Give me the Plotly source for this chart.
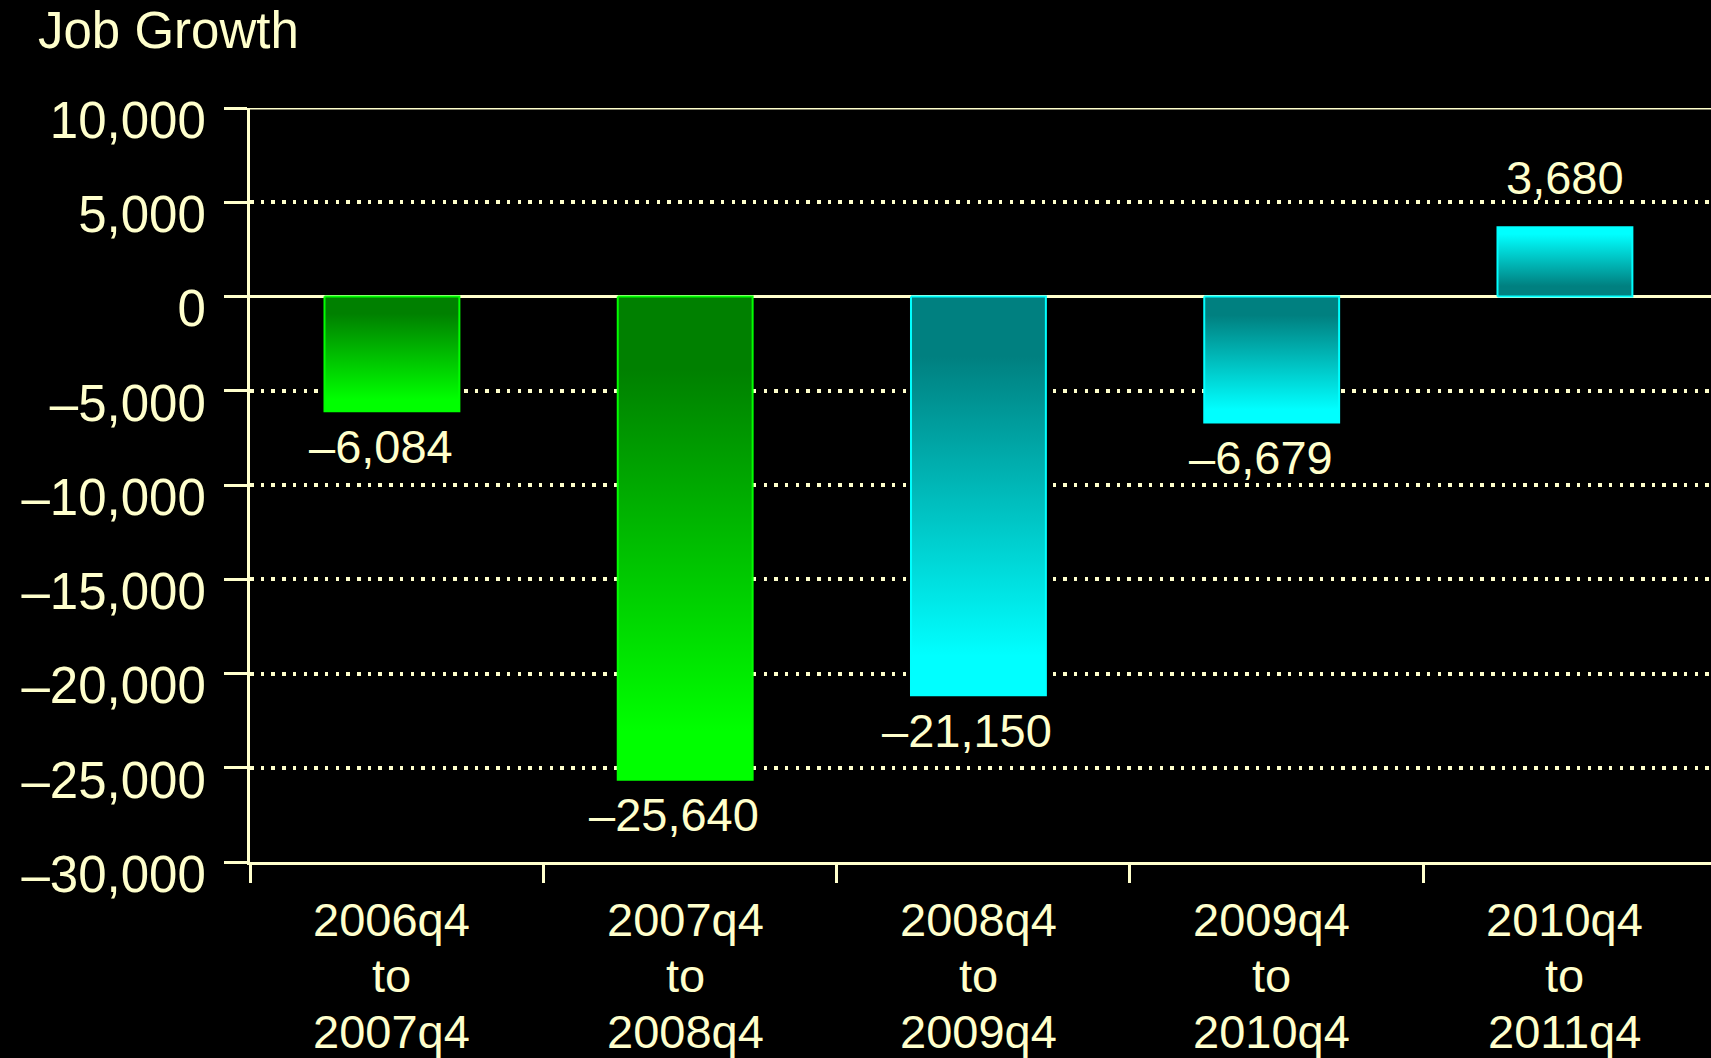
import plotly.graph_objects as go

# ---- data ----
periods = [("2006q4", "to", "2007q4"), ("2007q4", "to", "2008q4"), ("2008q4", "to", "2009q4"),
           ("2009q4", "to", "2010q4"), ("2010q4", "to", "2011q4")]
job_growth = [-6084, -25640, -21150, -6679, 3680]
value_labels = ["–6,084", "–25,640", "–21,150", "–6,679", "3,680"]
y_ticks = [10000, 5000, 0, -5000, -10000, -15000, -20000, -25000, -30000]
y_tick_labels = ["10,000", "5,000", "0", "–5,000", "–10,000", "–15,000", "–20,000", "–25,000", "–30,000"]
bar_palette = [("#008000", "#00FF00"), ("#008000", "#00FF00"), ("#008080", "#00FFFF"),
               ("#008080", "#00FFFF"), ("#008080", "#00FFFF")]

CREAM = "#FFFFCC"
FONT = "Liberation Sans, Arial, sans-serif"
W = 0.46
D = 0.016  # small offset of bars to the left of the category midpoints

fig = go.Figure()
for i, (v, (dark, bright)) in enumerate(zip(job_growth, bar_palette)):
    xs = [i - W / 2, i + W / 2, i + W / 2, i - W / 2, i - W / 2]
    ys = [0, 0, v, v, 0]
    if v < 0:
        cs = [[0, bright], [0.1, bright], [0.85, dark], [1, dark]]
    else:
        cs = [[0, dark], [0.15, dark], [0.9, bright], [1, bright]]
    fig.add_trace(go.Scatter(
        x=xs, y=ys, mode="lines", fill="toself",
        fillgradient=dict(type="vertical", colorscale=cs),
        line=dict(color=bright, width=2), hoverinfo="skip", showlegend=False))
    fig.add_annotation(
        x=i, y=v, text=value_labels[i], showarrow=False,
        xanchor="center", yanchor="middle",
        xshift=-11 if v < 0 else 0, yshift=-35 if v < 0 else 50,
        font=dict(family=FONT, size=47, color=CREAM))

# category labels (three lines each, tighter line spacing than tick labels allow)
for i, lines in enumerate(periods):
    for k, line in enumerate(lines):
        fig.add_annotation(
            x=i, xref="x", y=0, yref="paper", text=line, showarrow=False,
            xanchor="center", yanchor="middle", yshift=-57 - 56 * k,
            font=dict(family=FONT, size=47, color=CREAM))

fig.add_annotation(
    xref="paper", yref="paper", x=(36 - 250) / 1461, y=1 + (108 - 30) / 754,
    text="Job Growth", showarrow=False, xanchor="left", yanchor="middle",
    font=dict(family=FONT, size=51, color=CREAM))

# top border line
fig.add_shape(type="line", xref="paper", yref="y", x0=0, x1=1, y0=10000, y1=10000,
              line=dict(color=CREAM, width=3))

fig.update_layout(
    width=1711, height=1058,
    margin=dict(l=250, r=0, t=108, b=196),
    paper_bgcolor="black", plot_bgcolor="black",
    showlegend=False,
    xaxis=dict(
        range=[-0.5 + D, -0.5 + D + 1461 / 293.25], showgrid=False, zeroline=False,
        showticklabels=False, ticks="", automargin=False,
        showline=True, linecolor=CREAM, linewidth=3,
        minor=dict(tickvals=[k - 0.5 + D for k in range(len(periods))], ticks="outside",
                   ticklen=18, tickwidth=3, tickcolor=CREAM, showgrid=False),
    ),
    yaxis=dict(
        range=[-30000, 10000], tickvals=y_ticks, ticktext=y_tick_labels,
        ticks="outside", ticklen=23, tickwidth=3, tickcolor=CREAM, automargin=False,
        showline=True, linecolor=CREAM, linewidth=3,
        showgrid=True, gridcolor=CREAM, gridwidth=3.5, griddash="3.5px,7.2px",
        zeroline=True, zerolinecolor=CREAM, zerolinewidth=3,
        tickfont=dict(family=FONT, size=51, color=CREAM),
        ticklabelstandoff=8, ticklabelshift=12,
    ),
)

fig.write_html("out.html", config={"displayModeBar": False},
               post_script="document.body.style.margin='0';document.body.style.overflow='hidden';"
                           "document.body.style.background='black';")
